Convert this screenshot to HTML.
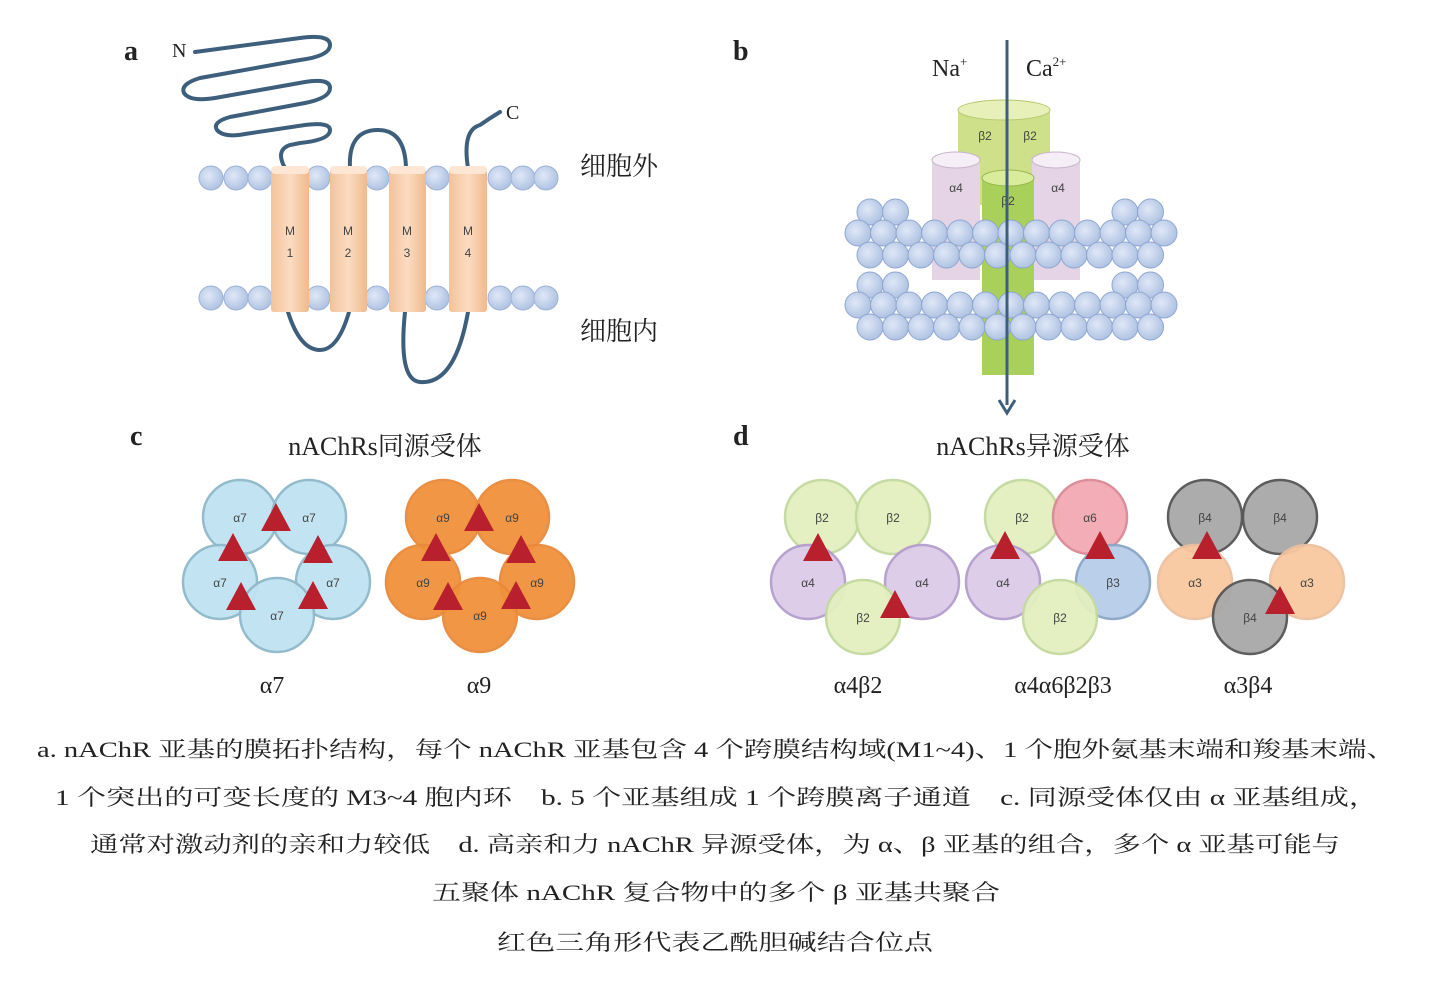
<!DOCTYPE html>
<html><head><meta charset="utf-8"><style>
html,body{margin:0;padding:0;background:#fff;}
svg{display:block;}
text{font-family:"Liberation Serif","Noto Serif CJK SC",serif;fill:#222;}
.sm{font-family:"Liberation Sans",sans-serif;font-size:12px;fill:#444;}
</style></head><body>
<svg id="s" width="1429" height="985" viewBox="0 0 1429 985" xmlns="http://www.w3.org/2000/svg">
<defs>
<linearGradient id="cyl" x1="0" x2="1"><stop offset="0" stop-color="#f3c299"/><stop offset="0.5" stop-color="#fbdcc2"/><stop offset="1" stop-color="#f0b98c"/></linearGradient>
<radialGradient id="head" cx="0.4" cy="0.4" r="0.7"><stop offset="0" stop-color="#dfe8f7"/><stop offset="1" stop-color="#a9bde0"/></radialGradient>
</defs>
<!-- panel a -->
<text x="124" y="60" font-size="28" font-weight="bold">a</text>
<text x="172" y="57" font-size="20">N</text>
<text x="506" y="119" font-size="20">C</text>
<text x="580" y="175" font-size="26">细胞外</text>
<text x="580" y="340" font-size="26">细胞内</text>
<g fill="none" stroke="#3e5f7c" stroke-width="4" stroke-linecap="round">
<path d="M195 52 L300 38 Q330 34 330 45 Q330 56 300 60 L200 78 Q180 84 184 93 Q190 102 215 98 L305 82 Q330 78 330 88 Q330 98 305 103 L230 117 Q212 122 217 130 Q224 138 245 134 L305 125 Q330 122 330 130 Q330 140 300 143 L290 145 Q275 150 285 168"/>
<path d="M350 168 Q348 130 378 130 Q405 130 406 168"/>
<path d="M468 168 Q462 130 480 125 Q490 118 500 112"/>
<path d="M288 312 Q300 350 320 350 Q338 350 349 312"/>
<path d="M405 312 Q398 380 420 382 Q455 385 468 312"/>
</g>
<g id="heads"></g>
<g>
<rect x="271" y="168" width="38" height="144" fill="url(#cyl)" rx="3"/>
<rect x="330" y="168" width="37" height="144" fill="url(#cyl)" rx="3"/>
<rect x="389" y="168" width="37" height="144" fill="url(#cyl)" rx="3"/>
<rect x="449" y="168" width="38" height="144" fill="url(#cyl)" rx="3"/>
<g fill="#fde6d3"><rect x="271" y="166" width="38" height="8" rx="4"/><rect x="330" y="166" width="37" height="8" rx="4"/><rect x="389" y="166" width="37" height="8" rx="4"/><rect x="449" y="166" width="38" height="8" rx="4"/></g>
<g class="sm" font-size="13" text-anchor="middle">
<text class="sm" x="290" y="235" text-anchor="middle">M</text><text class="sm" x="290" y="257" text-anchor="middle">1</text>
<text class="sm" x="348" y="235" text-anchor="middle">M</text><text class="sm" x="348" y="257" text-anchor="middle">2</text>
<text class="sm" x="407" y="235" text-anchor="middle">M</text><text class="sm" x="407" y="257" text-anchor="middle">3</text>
<text class="sm" x="468" y="235" text-anchor="middle">M</text><text class="sm" x="468" y="257" text-anchor="middle">4</text>
</g></g>
<!-- panel b -->
<text x="733" y="60" font-size="28" font-weight="bold">b</text>
<text x="932" y="76" font-size="24">Na<tspan font-size="13" dy="-10">+</tspan></text>
<text x="1026" y="76" font-size="24">Ca<tspan font-size="13" dy="-10">2+</tspan></text>
<g>
<rect x="958" y="110" width="92" height="95" fill="#cfe08a"/>
<ellipse cx="1004" cy="110" rx="46" ry="10" fill="#e6f0b8" stroke="#b5c870"/>
<text class="sm" x="985" y="140" text-anchor="middle">β2</text><text class="sm" x="1030" y="140" text-anchor="middle">β2</text>
<rect x="932" y="160" width="48" height="120" fill="#e4d4e6"/><ellipse cx="956" cy="160" rx="24" ry="8" fill="#f5eef6" stroke="#c8b5cb"/>
<rect x="1032" y="160" width="48" height="120" fill="#e4d4e6"/><ellipse cx="1056" cy="160" rx="24" ry="8" fill="#f5eef6" stroke="#c8b5cb"/>
<text class="sm" x="956" y="192" text-anchor="middle">α4</text><text class="sm" x="1058" y="192" text-anchor="middle">α4</text>
<rect x="982" y="178" width="52" height="197" fill="#a8d05a"/><ellipse cx="1008" cy="178" rx="26" ry="8" fill="#d9ec9c" stroke="#9ab850"/>
<text class="sm" x="1008" y="205" text-anchor="middle">β2</text>
</g>
<g id="bil"></g>
<line x1="1007" y1="40" x2="1007" y2="405" stroke="#3e5f7c" stroke-width="3"/>
<path d="M999 400 L1007 413 L1015 400" fill="none" stroke="#3e5f7c" stroke-width="3"/>
<!-- panel c -->
<text x="130" y="445" font-size="28" font-weight="bold">c</text>
<text x="385" y="455" font-size="26" text-anchor="middle">nAChRs同源受体</text>
<text x="733" y="445" font-size="28" font-weight="bold">d</text>
<text x="1033" y="455" font-size="26" text-anchor="middle">nAChRs异源受体</text>
<g id="rings"></g>
<g font-size="24" text-anchor="middle">
<text x="272" y="693">α7</text><text x="479" y="693">α9</text>
<text x="858" y="693">α4β2</text><text x="1063" y="693">α4α6β2β3</text><text x="1248" y="693">α3β4</text>
</g>
<!-- caption -->
<g font-size="22">
<text x="37" y="757" textLength="1358" lengthAdjust="spacingAndGlyphs">a. nAChR 亚基的膜拓扑结构，每个 nAChR 亚基包含 4 个跨膜结构域(M1~4)、1 个胞外氨基末端和羧基末端、</text>
<text x="55" y="805" textLength="1323" lengthAdjust="spacingAndGlyphs">1 个突出的可变长度的 M3~4 胞内环　b. 5 个亚基组成 1 个跨膜离子通道　c. 同源受体仅由 α 亚基组成，</text>
<text x="90" y="852" textLength="1250" lengthAdjust="spacingAndGlyphs">通常对激动剂的亲和力较低　d. 高亲和力 nAChR 异源受体，为 α、β 亚基的组合，多个 α 亚基可能与</text>
<text x="432" y="900" textLength="568" lengthAdjust="spacingAndGlyphs">五聚体 nAChR 复合物中的多个 β 亚基共聚合</text>
<text x="497" y="950" textLength="436" lengthAdjust="spacingAndGlyphs">红色三角形代表乙酰胆碱结合位点</text>
</g>
</svg>
<script>
var NS="http://www.w3.org/2000/svg";
function el(p,t,a){var e=document.createElementNS(NS,t);for(var k in a)e.setAttribute(k,a[k]);p.appendChild(e);return e;}
var h=document.getElementById('heads');
[211,236,260,318,377,437,500,523,546].forEach(function(x){[178,298].forEach(function(y){el(h,'circle',{cx:x,cy:y,r:12,fill:'url(#head)',stroke:'#9fb3d6','stroke-width':1});});});
var b=document.getElementById('bil');
function rowc(y,x0,x1,skip){for(var x=x0;x<=x1;x+=25.5){if(skip&&x>skip[0]&&x<skip[1])continue;el(b,'circle',{cx:x,cy:y,r:13,fill:'url(#head)',stroke:'#8ea6cf','stroke-width':1});}}
rowc(212,870,1160,[915,1100]);rowc(233,858,1170);rowc(255,870,1160);
rowc(285,870,1160,[915,1100]);rowc(305,858,1170);rowc(327,870,1160);
var r=document.getElementById('rings');
function ring(cs,tris){cs.forEach(function(c){el(r,'circle',{cx:c[0],cy:c[1],r:37,fill:c[2],stroke:c[3],'stroke-width':2.5,opacity:0.95});var t=el(r,'text',{x:c[0],y:c[1]+5,'text-anchor':'middle','class':'sm'});t.textContent=c[4];});
tris.forEach(function(t){var x=t[0],y=t[1];el(r,'polygon',{points:(x)+','+(y-17)+' '+(x-15)+','+(y+11)+' '+(x+15)+','+(y+11),fill:'#b8202e'});});}
var B='#bfe3f2',Bs='#8fb8c9',O='#f0913a',Os='#e88a3a',G='#e3efbf',Gs='#c4d9a0',P='#dccbe8',Ps='#b49ccc',R='#f3a9b3',Rs='#d98a96',L='#b7cde8',Ls='#8aa6c6',Y='#a8a8a8',Ys='#555',A='#f8c9a0',As='#ecc0a0';
ring([[240,517,B,Bs,'α7'],[309,517,B,Bs,'α7'],[220,582,B,Bs,'α7'],[333,582,B,Bs,'α7'],[277,615,B,Bs,'α7']],[[276,520],[233,550],[318,552],[241,599],[313,598]]);
ring([[443,517,O,Os,'α9'],[512,517,O,Os,'α9'],[423,582,O,Os,'α9'],[537,582,O,Os,'α9'],[480,615,O,Os,'α9']],[[479,520],[436,550],[521,552],[448,599],[516,598]]);
ring([[822,517,G,Gs,'β2'],[893,517,G,Gs,'β2'],[808,582,P,Ps,'α4'],[922,582,P,Ps,'α4'],[863,617,G,Gs,'β2']],[[818,550],[895,607]]);
ring([[1022,517,G,Gs,'β2'],[1090,517,R,Rs,'α6'],[1003,582,P,Ps,'α4'],[1113,582,L,Ls,'β3'],[1060,617,G,Gs,'β2']],[[1005,548],[1100,548]]);
ring([[1205,517,Y,Ys,'β4'],[1280,517,Y,Ys,'β4'],[1195,582,A,As,'α3'],[1307,582,A,As,'α3'],[1250,617,Y,Ys,'β4']],[[1207,548],[1280,603]]);
</script>
</body></html>
